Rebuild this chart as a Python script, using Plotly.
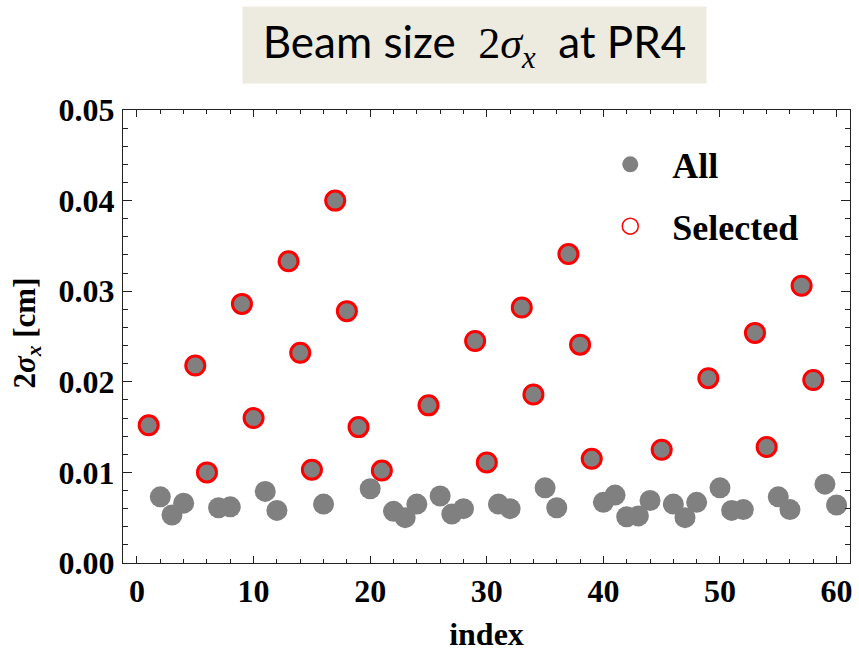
import plotly.graph_objects as go

# ---- data ----
index = list(range(1, 61))
sigma2x = [0.0152, 0.0073, 0.0053, 0.0066, 0.0218, 0.0100, 0.0061, 0.0062, 0.0286, 0.0160,
           0.0079, 0.0058, 0.0333, 0.0232, 0.0103, 0.0065, 0.0400, 0.0278, 0.0150, 0.0082,
           0.0102, 0.0057, 0.0050, 0.0065, 0.0174, 0.0074, 0.0054, 0.0060, 0.0245, 0.0111,
           0.0065, 0.0060, 0.0282, 0.0186, 0.0083, 0.0061, 0.0341, 0.0241, 0.0115, 0.0067,
           0.0075, 0.0051, 0.0052, 0.0069, 0.0125, 0.0065, 0.0050, 0.0067, 0.0204, 0.0083,
           0.0058, 0.0059, 0.0254, 0.0128, 0.0073, 0.0059, 0.0306, 0.0202, 0.0087, 0.0064]
selected_idx = [1, 5, 6, 9, 10, 13, 14, 15, 17, 18, 19, 21, 25, 29, 30, 33, 34, 37, 38, 39,
                45, 49, 53, 54, 57, 58]
selected_val = [sigma2x[i - 1] for i in selected_idx]

x_ticks = [0, 10, 20, 30, 40, 50, 60]
y_ticks = [0.00, 0.01, 0.02, 0.03, 0.04, 0.05]

GRAY = "#808080"
SERIF = "Liberation Serif"

fig = go.Figure()
fig.add_trace(go.Scatter(
    x=index, y=sigma2x, mode="markers", name="All",
    marker=dict(color=GRAY, size=21, line=dict(width=0)),
    legendgroup="a", showlegend=True, cliponaxis=False))
fig.add_trace(go.Scatter(
    x=selected_idx, y=selected_val, mode="markers", name="Selected",
    marker=dict(color=GRAY, size=19, line=dict(color="#FF0000", width=3)),
    showlegend=False, cliponaxis=False))
fig.add_trace(go.Scatter(
    x=[None], y=[None], mode="markers", name="Selected",
    marker=dict(symbol="circle-open", color="#FF0000", size=18, line=dict(width=1.5)),
    legendgroup="b", showlegend=True))

axis_common = dict(
    showline=True, linecolor="#222222", linewidth=1, mirror="ticks",
    ticks="inside", tickcolor="#222222", showgrid=False, zeroline=False,
    tickfont=dict(family=SERIF, size=32, color="black", weight="bold"),
)

fig.update_xaxes(
    range=[-1.2, 61.15], tickvals=x_ticks, ticklen=7, tickwidth=1,
    minor=dict(dtick=2, tick0=0, ticks="inside", ticklen=4, tickcolor="#222222"),
    ticklabelstandoff=0,
    title=dict(text="index", font=dict(family=SERIF, size=32, color="black", weight="bold"),
               standoff=14),
    **axis_common)
fig.update_yaxes(
    range=[0, 0.05], tickvals=y_ticks, tickformat=".2f", ticklen=9, tickwidth=1,
    minor=dict(dtick=0.002, tick0=0, ticks="inside", ticklen=5, tickcolor="#222222"),
    ticklabelstandoff=1,
    **axis_common)

fig.update_layout(
    width=859, height=653,
    margin=dict(l=123, r=6, t=110, b=90),
    paper_bgcolor="white", plot_bgcolor="white",
    showlegend=True,
    legend=dict(x=0.64, y=0.946, xanchor="left", yanchor="top",
                font=dict(family=SERIF, size=36, color="black", weight="bold"),
                bgcolor="rgba(0,0,0,0)", itemwidth=74, tracegroupgap=12,
                traceorder="grouped"),
    annotations=[
        dict(xref="paper", yref="paper", x=0.483, y=1.143, xanchor="center", yanchor="middle",
             text=("Beam size  <span style=\"font-family:Liberation Serif\">2<i>σ</i>"
                   "<sub><i>x</i></sub></span>  at PR4"),
             showarrow=False, font=dict(family="Lato", size=44, color="black"),
             bgcolor="#EDEBE0", width=463, height=76, borderpad=0),
        dict(xref="paper", yref="paper", x=-0.1325, y=0.508, xanchor="center", yanchor="middle",
             text="2<i>σ</i><sub><i>x</i></sub> [cm]", textangle=-90, showarrow=False,
             font=dict(family=SERIF, size=31, color="black", weight="bold")),
    ],
)

fig.write_html("out.html")
